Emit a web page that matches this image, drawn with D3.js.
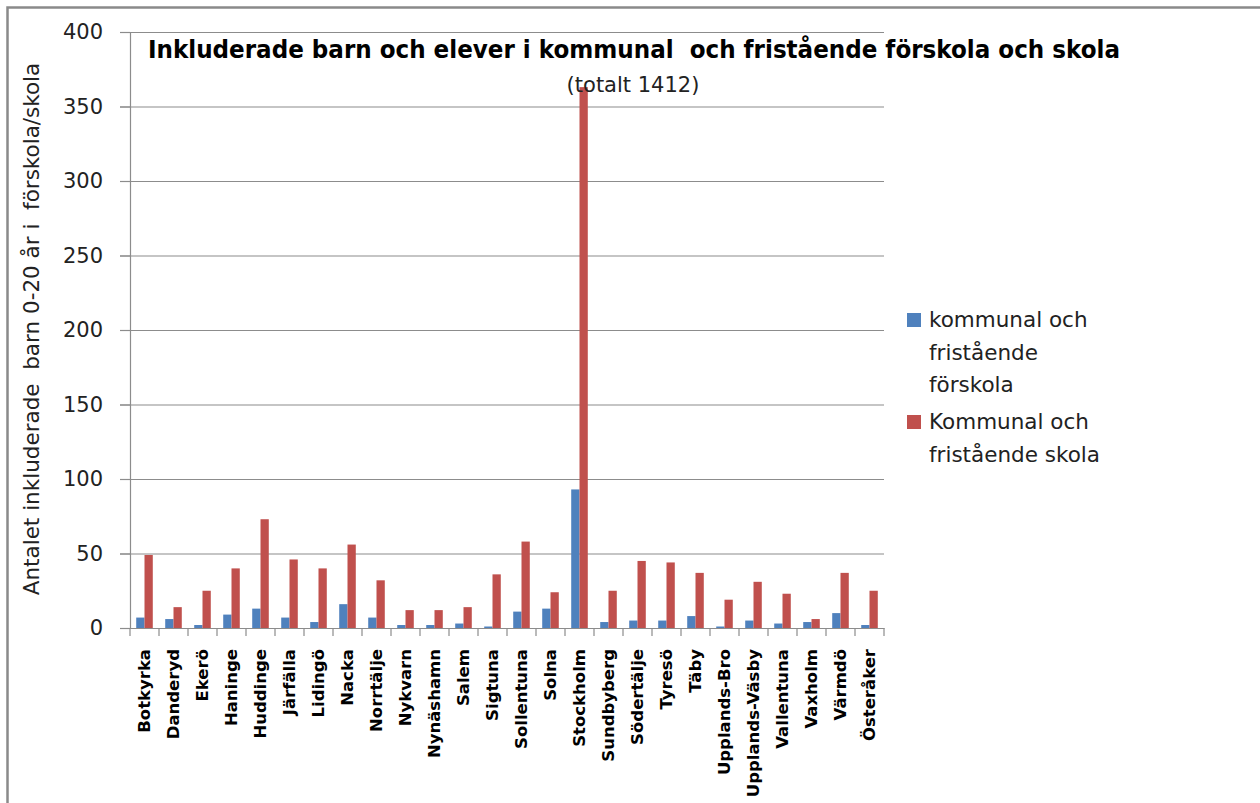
<!DOCTYPE html>
<html>
<head>
<meta charset="utf-8">
<script src="https://cdn.jsdelivr.net/npm/d3@7"></script>
<style>
  html, body { margin: 0; padding: 0; background: #fff; }
  #chart { width: 1260px; height: 803px; }
</style>
</head>
<body>
<div id="chart"></div>
<script>
var kommuner = ['Botkyrka', 'Danderyd', 'Ekerö', 'Haninge', 'Huddinge', 'Järfälla', 'Lidingö', 'Nacka',
    'Norrtälje', 'Nykvarn', 'Nynäshamn', 'Salem', 'Sigtuna', 'Sollentuna', 'Solna', 'Stockholm',
    'Sundbyberg', 'Södertälje', 'Tyresö', 'Täby', 'Upplands-Bro', 'Upplands-Väsby', 'Vallentuna',
    'Vaxholm', 'Värmdö', 'Österåker'];
var forskola = [7, 6, 2, 9, 13, 7, 4, 16, 7, 2, 2, 3, 1, 11, 13, 93, 4, 5, 5, 8, 1, 5, 3, 4, 10, 2];
var skola = [49, 14, 25, 40, 73, 46, 40, 56, 32, 12, 12, 14, 36, 58, 24, 363, 25, 45, 44, 37, 19, 31, 23, 6, 37, 25];
var seriesNames = ['kommunal och fristående förskola', 'Kommunal och fristående skola'];
var legendLines = [['kommunal och', 'fristående', 'förskola'], ['Kommunal och', 'fristående skola']];
var yTicks = [0, 50, 100, 150, 200, 250, 300, 350, 400];
var colors = ['#4F81BD', '#C0504D'];

var W = 1260, H = 803;
var plot = { left: 130, right: 884, top: 32, bottom: 628 };

var svg = d3.select('#chart').append('svg')
    .attr('width', W)
    .attr('height', H);

// outer chart frame
svg.append('rect')
    .attr('x', 7.5).attr('y', 7.5)
    .attr('width', W + 20).attr('height', H + 20)
    .attr('fill', 'none')
    .attr('stroke', '#8a8a8a')
    .attr('stroke-width', 2.5);

var x = d3.scaleBand()
    .domain(kommuner)
    .range([plot.left, plot.right])
    .paddingInner(0)
    .paddingOuter(0);
var barW = x.bandwidth() / 3.5;
var xs = d3.scaleBand()
    .domain([0, 1])
    .range([0, barW * 2]);
var y = d3.scaleLinear()
    .domain([0, 400])
    .range([plot.bottom, plot.top]);

// grid lines
svg.append('g')
    .selectAll('line')
    .data(yTicks)
    .enter()
    .append('line')
    .attr('x1', plot.left - 10)
    .attr('x2', plot.right)
    .attr('y1', function (d) { return y(d) + 0.5; })
    .attr('y2', function (d) { return y(d) + 0.5; })
    .attr('stroke', '#8c8c8c')
    .attr('stroke-width', 1.2);

// y axis
var yAxis = svg.append('g')
    .attr('transform', 'translate(' + plot.left + ',0)')
    .call(d3.axisLeft(y).tickValues(yTicks).tickSize(10).tickPadding(17));
yAxis.select('.domain').attr('stroke', '#8c8c8c').attr('stroke-width', 1.2);
yAxis.selectAll('.tick line').attr('stroke', '#8c8c8c').attr('stroke-width', 1.2);
yAxis.selectAll('.tick text')
    .attr('font-family', 'DejaVu Sans')
    .attr('font-size', 21)
    .attr('fill', '#222');

// bars
var rows = kommuner.map(function (k, i) { return { name: k, vals: [forskola[i], skola[i]] }; });
var groups = svg.append('g')
    .selectAll('g')
    .data(rows)
    .enter()
    .append('g')
    .attr('transform', function (d) {
        return 'translate(' + (x(d.name) + (x.bandwidth() - barW * 2) / 2) + ',0)';
    });
groups.selectAll('rect')
    .data(function (d) { return d.vals; })
    .enter()
    .append('rect')
    .attr('x', function (d, i) { return xs(i); })
    .attr('width', xs.bandwidth())
    .attr('y', function (d) { return y(d); })
    .attr('height', function (d) { return y(0) - y(d); })
    .attr('fill', function (d, i) { return colors[i]; });

// x axis
var xAxis = svg.append('g')
    .attr('transform', 'translate(0,' + plot.bottom + ')')
    .call(d3.axisBottom(x).tickSize(0).tickPadding(0));
xAxis.select('.domain').attr('stroke', '#8c8c8c').attr('stroke-width', 1.2);
xAxis.selectAll('.tick text')
    .attr('font-family', 'DejaVu Sans')
    .attr('font-weight', 'bold')
    .attr('font-size', 16.5)
    .attr('fill', '#000')
    .attr('text-anchor', 'end')
    .attr('dy', '0.35em')
    .attr('transform', 'translate(0,21) rotate(-90)');
var bounds = kommuner.map(function (k) { return x(k); }).concat([plot.right]);
xAxis.selectAll('.bound')
    .data(bounds)
    .enter()
    .append('line')
    .attr('class', 'bound')
    .attr('x1', function (d) { return d; })
    .attr('x2', function (d) { return d; })
    .attr('y1', 0)
    .attr('y2', 8)
    .attr('stroke', '#8c8c8c')
    .attr('stroke-width', 1.2);

// y axis title
svg.append('text')
    .attr('transform', 'translate(39,' + 329 + ') rotate(-90)')
    .attr('text-anchor', 'middle')
    .attr('font-family', 'DejaVu Sans')
    .attr('font-size', 21.5)
    .attr('fill', '#222')
    .attr('xml:space', 'preserve')
    .text('Antalet inkluderade  barn 0-20 år i  förskola/skola');

// title
svg.append('text')
    .attr('x', 634)
    .attr('y', 58)
    .attr('text-anchor', 'middle')
    .attr('font-family', 'DejaVu Sans')
    .attr('font-weight', 'bold')
    .attr('font-size', 25)
    .attr('textLength', 972)
    .attr('lengthAdjust', 'spacingAndGlyphs')
    .attr('fill', '#000')
    .attr('xml:space', 'preserve')
    .text('Inkluderade barn och elever i kommunal  och fristående förskola och skola');
svg.append('text')
    .attr('x', 633)
    .attr('y', 92)
    .attr('text-anchor', 'middle')
    .attr('font-family', 'DejaVu Sans')
    .attr('font-size', 21)
    .attr('fill', '#222')
    .text('(totalt 1412)');

// legend
var legendTop = [313, 415];
var legend = svg.append('g')
    .selectAll('g')
    .data(seriesNames)
    .enter()
    .append('g')
    .attr('transform', function (d, i) { return 'translate(907,' + legendTop[i] + ')'; });
legend.append('rect')
    .attr('width', 14)
    .attr('height', 14)
    .attr('fill', function (d, i) { return colors[i]; });
legend.append('text')
    .attr('font-family', 'DejaVu Sans')
    .attr('font-size', 21.5)
    .attr('fill', '#222')
    .selectAll('tspan')
    .data(function (d, i) { return legendLines[i]; })
    .enter()
    .append('tspan')
    .attr('x', 22)
    .attr('y', function (d, j) { return 14 + j * 32.5; })
    .text(function (d) { return d; });
</script>
</body>
</html>
